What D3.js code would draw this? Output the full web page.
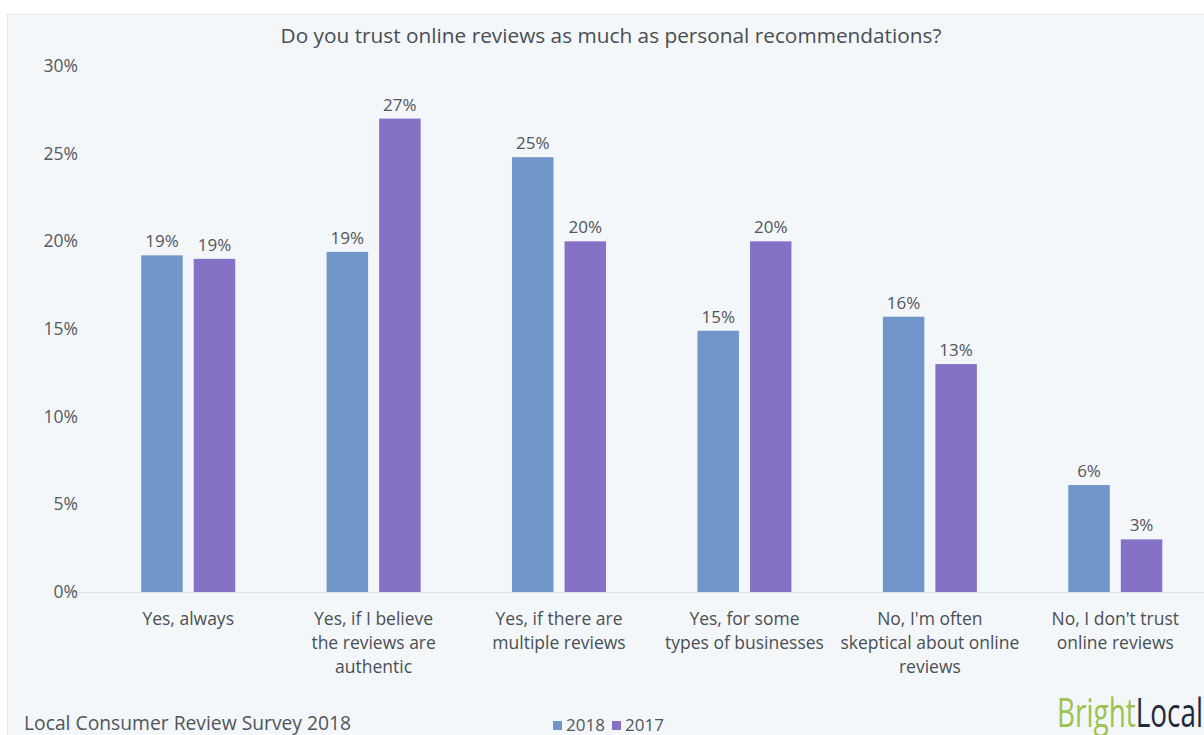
<!DOCTYPE html>
<html>
<head>
<meta charset="utf-8">
<script src="https://cdn.jsdelivr.net/npm/d3@7"></script>
<style>
  html, body { margin: 0; padding: 0; background: #ffffff; overflow: hidden; }
  svg { display: block; }
  text { font-family: "Open Sans", "Noto Sans", sans-serif; }
</style>
</head>
<body>
<svg id="chart" width="1204" height="735"></svg>
<script>
// Survey answers (x categories), one line per array entry
const categories = [
  ["Yes, always"],
  ["Yes, if I believe", "the reviews are", "authentic"],
  ["Yes, if there are", "multiple reviews"],
  ["Yes, for some", "types of businesses"],
  ["No, I'm often", "skeptical about online", "reviews"],
  ["No, I don't trust", "online reviews"]
];
const seriesNames = ["2018", "2017"];
// Share of respondents (%) per answer
const values2018 = [19.2, 19.4, 24.8, 14.9, 15.7, 6.1];
const values2017 = [19.0, 27.0, 20.0, 20.0, 13.0, 3.0];
const yTicks = [0, 5, 10, 15, 20, 25, 30];

const title = "Do you trust online reviews as much as personal recommendations?";
const footer = "Local Consumer Review Survey 2018";

const colors = { "2018": "#7196c9", "2017": "#8571c5" };

const svg = d3.select("#chart");
const W = 1204, H = 735;

// panel background
svg.append("rect").attr("x", 0).attr("y", 0).attr("width", W).attr("height", H).attr("fill", "#ffffff");
svg.append("rect").attr("x", 7.5).attr("y", 14.5).attr("width", W + 10).attr("height", H + 10)
  .attr("fill", "#f4f7fa").attr("stroke", "#e4e9ef").attr("stroke-width", 1);

const y = d3.scaleLinear().domain([0, 30]).range([592, 66]);
const x0 = d3.scaleBand().domain(d3.range(categories.length))
  .range([95.5, 1208]).paddingInner(0.493).paddingOuter(0.2465);
const x1 = d3.scaleBand().domain(seriesNames).range([0, x0.bandwidth()]).paddingInner(0.21);

// baseline
svg.append("line").attr("x1", 70).attr("x2", W).attr("y1", y(0) + 0.5).attr("y2", y(0) + 0.5)
  .attr("stroke", "#dde3ea").attr("stroke-width", 1);

// y axis labels
const yAxis = d3.axisLeft(y).tickValues(yTicks).tickFormat(d => d + "%").tickSize(0).tickPadding(0);
const yg = svg.append("g").attr("transform", "translate(78,0)").call(yAxis);
yg.select(".domain").remove();
yg.selectAll("text").attr("font-size", 17.5).attr("fill", "#555a60")
  .style("font-family", "'Open Sans', sans-serif");

// bars
const rows = categories.map((c, i) => ({ i, vals: [
  { s: "2018", v: values2018[i] }, { s: "2017", v: values2017[i] }
] }));

const groups = svg.append("g").selectAll("g").data(rows).join("g")
  .attr("transform", d => `translate(${x0(d.i)},0)`);

groups.selectAll("rect").data(d => d.vals).join("rect")
  .attr("x", d => x1(d.s))
  .attr("width", x1.bandwidth())
  .attr("y", d => y(d.v))
  .attr("height", d => y(0) - y(d.v))
  .attr("fill", d => colors[d.s]);

groups.selectAll("text.val").data(d => d.vals).join("text")
  .attr("class", "val")
  .attr("x", d => x1(d.s) + x1.bandwidth() / 2)
  .attr("y", d => y(d.v) - 8)
  .attr("text-anchor", "middle")
  .attr("font-size", 17)
  .attr("fill", "#50555b")
  .text(d => Math.round(d.v) + "%");

// category labels (x axis)
const xl = svg.append("g").selectAll("text").data(rows).join("text")
  .attr("x", d => x0(d.i) + x0.bandwidth() / 2)
  .attr("y", 625)
  .attr("text-anchor", "middle")
  .attr("font-size", 17.5)
  .attr("fill", "#4a4f55");
xl.selectAll("tspan").data(d => categories[d.i]).join("tspan")
  .attr("x", function () { return d3.select(this.parentNode).attr("x"); })
  .attr("dy", (d, k) => k === 0 ? 0 : 24)
  .text(d => d);

// title
svg.append("text").attr("x", 611).attr("y", 43).attr("text-anchor", "middle")
  .attr("font-size", 20.8).attr("fill", "#484d53").text(title);

// footer note
svg.append("text").attr("x", 24).attr("y", 730).attr("font-size", 19.3)
  .attr("fill", "#50555b").text(footer);

// legend
const leg = svg.append("g").selectAll("g").data(seriesNames).join("g")
  .attr("transform", (d, i) => `translate(${553 + i * 59},0)`);
leg.append("rect").attr("x", 0).attr("y", 721).attr("width", 9).attr("height", 9)
  .attr("fill", d => colors[d]);
leg.append("text").attr("x", 13).attr("y", 731).attr("font-size", 17).attr("fill", "#50555b")
  .text(d => d);

// brand mark, one word in two colours squeezed to a condensed width
const brand = svg.append("text").attr("x", 1057).attr("y", 727).attr("font-size", 41)
  .attr("textLength", 146).attr("lengthAdjust", "spacingAndGlyphs");
brand.append("tspan").attr("fill", "#9cc24f").text("Bright");
brand.append("tspan").attr("fill", "#1f2a3d").text("Local");
</script>
</body>
</html>
